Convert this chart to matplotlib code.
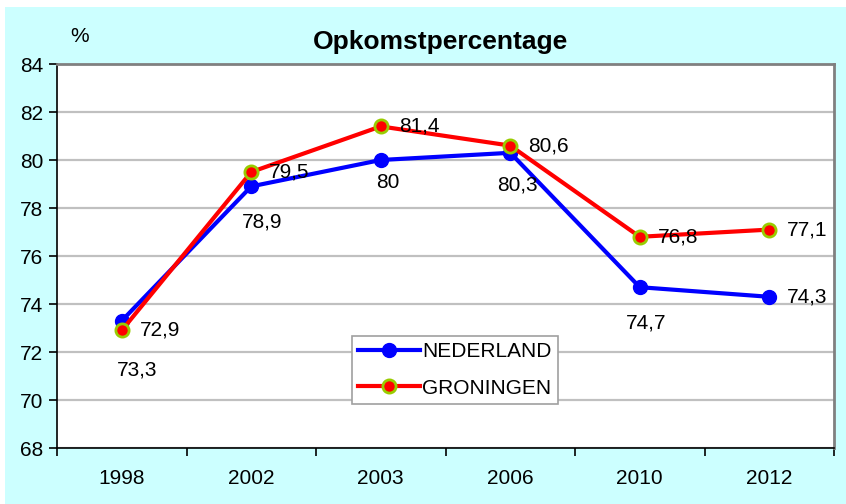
import matplotlib
matplotlib.use("Agg")
import numpy as np
from matplotlib import pyplot as plt
from matplotlib.patches import Rectangle

plt.rcParams['font.family'] = ['Liberation Sans', 'DejaVu Sans']

years = ['1998', '2002', '2003', '2006', '2010', '2012']
nederland = [73.3, 78.9, 80.0, 80.3, 74.7, 74.3]
groningen = [72.9, 79.5, 81.4, 80.6, 76.8, 77.1]
ned_labels = ['73,3', '78,9', '80', '80,3', '74,7', '74,3']
gro_labels = ['72,9', '79,5', '81,4', '80,6', '76,8', '77,1']

# label offsets in pixels (x, y) and alignment
ned_off = [(15, -49), (11, -36), (7, -23), (7, -32), (6, -36), (18, 0)]
ned_ha = ['center', 'center', 'center', 'center', 'center', 'left']

fs = 15

fig = plt.figure(figsize=(8.46, 5.04), dpi=100)
fig.patches.append(Rectangle((5 / 846, 0), 1, 497 / 504, transform=fig.transFigure,
                             facecolor='#CCFFFF', edgecolor='none', zorder=-10))

ax = fig.add_axes([57 / 846, 56 / 504, 777 / 846, 384 / 504])
x = np.arange(len(years))

ax.plot(x, nederland, color='#0000FF', lw=3, marker='o', ms=10,
        mfc='#0000FF', mec='#0000FF', label='NEDERLAND', zorder=3)
ax.plot(x, groningen, color='#FF0000', lw=3, marker='o', ms=9.5,
        mfc='#FF0000', mec='#99CC00', mew=2, label='GRONINGEN', zorder=4)

for i in range(len(x)):
    ax.annotate(ned_labels[i], (x[i], nederland[i]), xytext=ned_off[i],
                textcoords='offset pixels', ha=ned_ha[i], va='center', fontsize=fs, zorder=5)
    ax.annotate(gro_labels[i], (x[i], groningen[i]), xytext=(18, 0),
                textcoords='offset pixels', ha='left', va='center', fontsize=fs, zorder=5)

ax.set_xlim(-0.5, len(years) - 0.5)
ax.set_ylim(68, 84)
ax.set_yticks(np.arange(68, 85, 2))
ax.set_xticks(x)
ax.set_xticklabels(years, fontsize=fs)
ax.set_xticks(np.arange(-0.5, len(years)), minor=True)
ax.tick_params(axis='x', which='major', length=0, pad=15)
ax.tick_params(axis='x', which='minor', length=6, width=1.2, direction='out', color='black')
ax.tick_params(axis='y', length=6, width=1.2, direction='out', labelsize=fs, pad=4)

ax.grid(axis='y', color='#C0C0C0', lw=1.6, zorder=0)
ax.set_axisbelow(True)
ax.spines['left'].set_color('black')
ax.spines['left'].set_linewidth(1.2)
ax.spines['bottom'].set_color('black')
ax.spines['bottom'].set_linewidth(1.2)
ax.spines['top'].set_color('#808080')
ax.spines['top'].set_linewidth(2)
ax.spines['right'].set_color('#808080')
ax.spines['right'].set_linewidth(2)

fig.text(440 / 846, 1 - 42 / 504, 'Opkomstpercentage', fontsize=19, fontweight='bold',
         ha='center', va='center')
fig.text(80 / 846, 1 - 37 / 504, '%', fontsize=fs, ha='center', va='center')

leg = ax.legend(loc='center', bbox_to_anchor=(0.512, 0.204), fontsize=fs,
                fancybox=False, framealpha=1, edgecolor='#A0A0A0',
                handlelength=3.0, handletextpad=0.1, borderpad=0.3, labelspacing=0.85)
leg.get_frame().set_linewidth(1.2)

fig.savefig('out.png', dpi=100)
